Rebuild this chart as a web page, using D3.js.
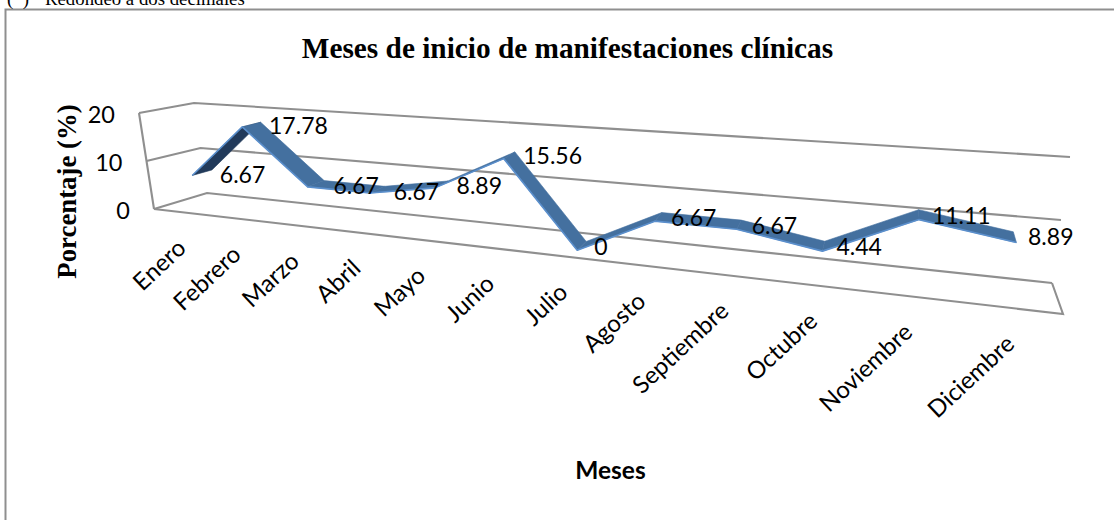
<!DOCTYPE html>
<html><head><meta charset="utf-8">
<script src="https://cdn.jsdelivr.net/npm/d3@7/dist/d3.min.js"></script>
<style>html,body{margin:0;padding:0;background:#fff}svg{display:block}</style></head>
<body><svg id="c" width="1114" height="520"></svg>
<script>
const months = ["Enero","Febrero","Marzo","Abril","Mayo","Junio","Julio","Agosto","Septiembre","Octubre","Noviembre","Diciembre"];
const values = [6.67,17.78,6.67,6.67,8.89,15.56,0,6.67,6.67,4.44,11.11,8.89];
const labels = ["6.67","17.78","6.67","6.67","8.89","15.56","0","6.67","6.67","4.44","11.11","8.89"];
const yTicks = [0,10,20];
const noteMark = "(*)";
const note = "Redondeo a dos decimales";
const title = "Meses de inicio de manifestaciones clínicas";
const yTitle = "Porcentaje (%)";
const xTitle = "Meses";

const svg = d3.select("#c");
// 3D box calibration (screen corners of the plot box)
const FL0=[154,209],BL0=[207,193],BR0=[1052,283],FR0=[1063,314];
const FL1=[139,113],BL1=[194,103],BR1=[1070,157],FR1=[1083,184];
const lerp=(a,b,t)=>[a[0]+(b[0]-a[0])*t,a[1]+(b[1]-a[1])*t];
const vScale=d3.scaleLinear().domain([0,20]).range([0,1]);
const tScale=d3.scalePoint().domain(months).range([0,1]).padding(0.5);
const persp=(t,c=1.4)=>t/(t+c*(1-t));
function P(u,w,h){
  const f=lerp(lerp(FL0,FR0,u),lerp(FL1,FR1,u),h);
  const b=lerp(lerp(BL0,BR0,u),lerp(BL1,BR1,u),h);
  return lerp(f,b,w);
}
const line=d3.line();
const gray="#8f8f8f";
const grid=svg.append("g").attr("fill","none").attr("stroke",gray).attr("stroke-width",2.1);
yTicks.forEach(v=>{
  const h=vScale(v);
  grid.append("path").attr("d",line([P(0,0,h),P(0,1,h),P(1,1,h)]));
});
grid.append("path").attr("d",line([P(0,0,0),P(1,0,0),P(1,1,0)]));
grid.append("path").attr("d",line([P(0,0,0),P(0,0,1)]));

const wF=0.3,wB=0.68;
const pts=months.map((m,i)=>{
  const u=persp(tScale(m)),h=vScale(values[i]);
  return {u,f:P(u,wF,h),b:P(u,wB,h)};
});
const rib=svg.append("g");
d3.pairs(pts).forEach(([a,c])=>{
  const poly=[a.f,c.f,c.b,a.b];
  const under=d3.polygonArea(poly)<0;
  rib.append("path").attr("d",line(poly)+"Z")
    .attr("fill",under?"#223a5a":"#44709f").attr("stroke",under?"#223a5a":"#44709f").attr("stroke-width",0.6);
});
rib.append("path").attr("d",line(pts.map(p=>p.f))).attr("fill","none").attr("stroke","#5b8fcc").attr("stroke-width",1.6).attr("stroke-linejoin","round");

const sans="Lato, Carlito, sans-serif", serif="'Liberation Serif', serif";
svg.append("rect").attr("x",5.5).attr("y",9.5).attr("width",1120).attr("height",520).attr("fill","none").attr("stroke",gray).attr("stroke-width",2);
const noteG=svg.append("g").attr("font-family",serif).attr("font-size",18.8).attr("fill","#000");
noteG.append("text").text(noteMark).attr("x",7).attr("y",5);
noteG.append("text").text(note).attr("x",45).attr("y",5);
svg.append("text").text(title).attr("x",567.5).attr("y",58).attr("text-anchor","middle").attr("font-family",serif).attr("font-weight","bold").attr("font-size",29.3).attr("fill","#000");
svg.append("text").text(yTitle).attr("transform","translate(76,191.5) rotate(-90)").attr("text-anchor","middle").attr("font-family",serif).attr("font-weight","bold").attr("font-size",26.8).attr("fill","#000");
svg.append("text").text(xTitle).attr("x",610.5).attr("y",479).attr("text-anchor","middle").attr("font-family",sans).attr("font-weight","bold").attr("font-size",24.5).attr("fill","#000");
yTicks.forEach(v=>{
  const p=P(0,0,vScale(v));
  svg.append("text").text(v).attr("x",p[0]-24).attr("y",p[1]+9.5).attr("text-anchor","end").attr("font-family",sans).attr("font-size",23.5).attr("fill","#000");
});
months.forEach((m,i)=>{
  const p=P(persp(tScale(m),1.45),0,0);
  svg.append("text").text(m)
    .attr("transform",`translate(${p[0]+7},${p[1]+38}) rotate(-43)`)
    .attr("text-anchor","end").attr("font-family",sans).attr("font-size",24).attr("fill","#000");
});
const labelDx=d3.scaleLinear().domain([0,.15,.46,1]).range([28,26,17,11]);
const labelDy=d3.scaleLinear().domain([0,.46,.83,1]).range([8,5,4,2]);
pts.forEach((p,i)=>{
  svg.append("text").text(labels[i]).attr("x",p.f[0]+labelDx(p.u)).attr("y",p.f[1]+labelDy(p.u))
    .attr("font-family",sans).attr("font-size",23).attr("fill","#000");
});
</script></body></html>
